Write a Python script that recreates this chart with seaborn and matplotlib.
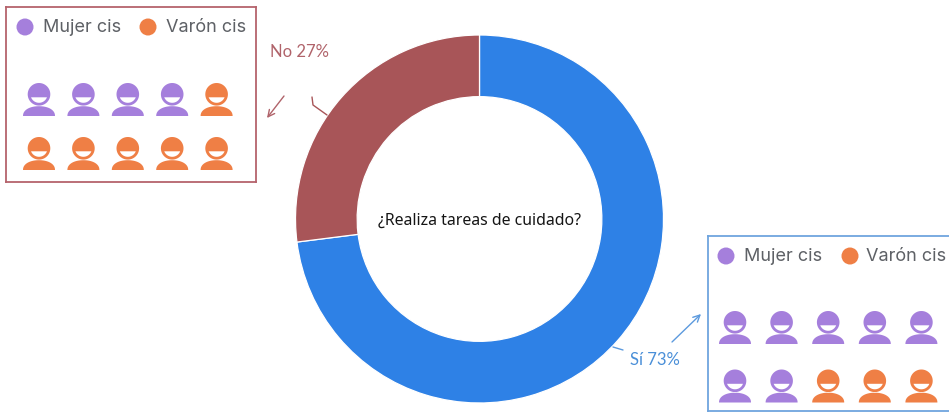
import numpy as np
import pandas as pd
import seaborn as sns
import matplotlib
matplotlib.use("Agg")
import matplotlib.pyplot as plt
from matplotlib.path import Path

# Survey results
answers = ["Sí", "No"]
shares = [73, 27]
answer_colors = ["#2e81e6", "#a85558"]
question = "¿Realiza tareas de cuidado?"

# Gender of ten representative people per answer, row by row
no_people = ["Mujer cis"] * 4 + ["Varón cis"] * 6
si_people = ["Mujer cis"] * 7 + ["Varón cis"] * 3
gender_palette = {"Mujer cis": "#a57fdc", "Varón cis": "#ef7f45"}

W, H = 949, 414
sns.set_theme(style="white")
plt.rcParams["font.family"] = ["Lato", "DejaVu Sans"]
fig = plt.figure(figsize=(W / 100, H / 100), dpi=100)


def px_axes(left, top, width, height, **kw):
    return fig.add_axes([left / W, 1 - (top + height) / H, width / W, height / H], **kw)


def person_marker():
    """Head with a cut-out smile above a domed torso, in pixel-sized units."""
    t = np.linspace(0, 2 * np.pi, 80)[:-1]
    head_y = 5.2
    head = np.c_[11.3 * np.cos(t), head_y + 11.3 * np.sin(t)]
    a = np.arcsin(3 / 8.5)
    s = np.linspace(np.pi + a, 2 * np.pi - a, 30)
    smile = np.c_[8.5 * np.cos(s), head_y + 8.5 * np.sin(s)][::-1]
    b = np.linspace(np.pi, 0, 50)
    torso = np.c_[16 * np.sign(np.cos(b)) * np.abs(np.cos(b)) ** 0.95,
                  -16.5 + 9.8 * np.sin(b) ** 0.9]
    parts = [Path(np.r_[p, p[:1]], closed=True) for p in (head, smile, torso)]
    return Path.make_compound_path(*parts)


def people_panel(people, box, first, step, edge):
    left, top, width, height = box
    ax = px_axes(left, top, width, height, facecolor="none")
    frame = pd.DataFrame({
        "col": [i % 5 for i in range(len(people))],
        "row": [i // 5 for i in range(len(people))],
        "gender": people,
    })
    sns.scatterplot(data=frame, x="col", y="row", hue="gender", palette=gender_palette,
                    marker=person_marker(), s=(33 * 0.72) ** 2, linewidth=0,
                    legend=False, ax=ax, clip_on=False)
    ax.set_xlim((left - first[0]) / step[0], (left + width - first[0]) / step[0])
    ax.set_ylim((top + height - first[1]) / step[1], (top - first[1]) / step[1])
    ax.set(xlabel="", ylabel="", xticks=[], yticks=[])
    for spine in ax.spines.values():
        spine.set_color(edge)
        spine.set_linewidth(1.3)
        spine.set_visible(True)


# Donut
donut = px_axes(295.5, 36, 368, 368)
donut.pie(shares, colors=answer_colors, startangle=90, counterclock=False, radius=1,
          wedgeprops={"width": 0.335, "edgecolor": "white", "linewidth": 0.9})
donut.set_xlim(-1, 1)
donut.set_ylim(-1, 1)

# Panels
people_panel(no_people, (6, 8, 250, 175), (39, 100.5), (44.4, 54), "#b5636c")
people_panel(si_people, (708, 237, 260, 175), (735, 328.5), (46.6, 58.5), "#6fa5de")

# Annotation layer in pixel coordinates
over = px_axes(0, 0, W, H, facecolor="none")
over.set_xlim(0, W)
over.set_ylim(H, 0)
over.axis("off")

legend_dots = pd.DataFrame({
    "x": [25, 148, 726, 850],
    "y": [28, 28, 257, 257],
    "gender": ["Mujer cis", "Varón cis", "Mujer cis", "Varón cis"],
})
sns.scatterplot(data=legend_dots, x="x", y="y", hue="gender", palette=gender_palette,
                s=(17 * 0.72) ** 2, linewidth=0, legend=False, ax=over)
over.set(xlabel="", ylabel="")
for x, y, label in [(43, 28, "Mujer cis"), (166, 28, "Varón cis"),
                    (744, 257, "Mujer cis"), (866, 257, "Varón cis")]:
    over.text(x, y, label, family="Inter", fontsize=13, color="#5e6166",
              va="center", ha="left")

over.text(480, 221, question, fontsize=11.4, fontweight="bold", family="Noto Sans",
          color="#151515", ha="center", va="center")
over.text(300, 52, f"{answers[1]} {shares[1]}%", fontsize=12, color="#b0636a",
          ha="center", va="center")
over.text(655, 360, f"{answers[0]} {shares[0]}%", fontsize=12, color="#4a8fd8",
          ha="center", va="center")

over.plot([312, 313, 327], [98, 106, 116], color="#a85558", lw=1)
over.plot([613, 623], [348, 351], color="#5c9ade", lw=1)
over.annotate("", xy=(267, 119), xytext=(284, 97),
              arrowprops=dict(arrowstyle="->", color="#b0636a", lw=1, shrinkA=0, shrinkB=0))
over.annotate("", xy=(701, 315), xytext=(672, 343),
              arrowprops=dict(arrowstyle="->", color="#5c9ade", lw=1, shrinkA=0, shrinkB=0))

fig.savefig("out.png", dpi=100)
